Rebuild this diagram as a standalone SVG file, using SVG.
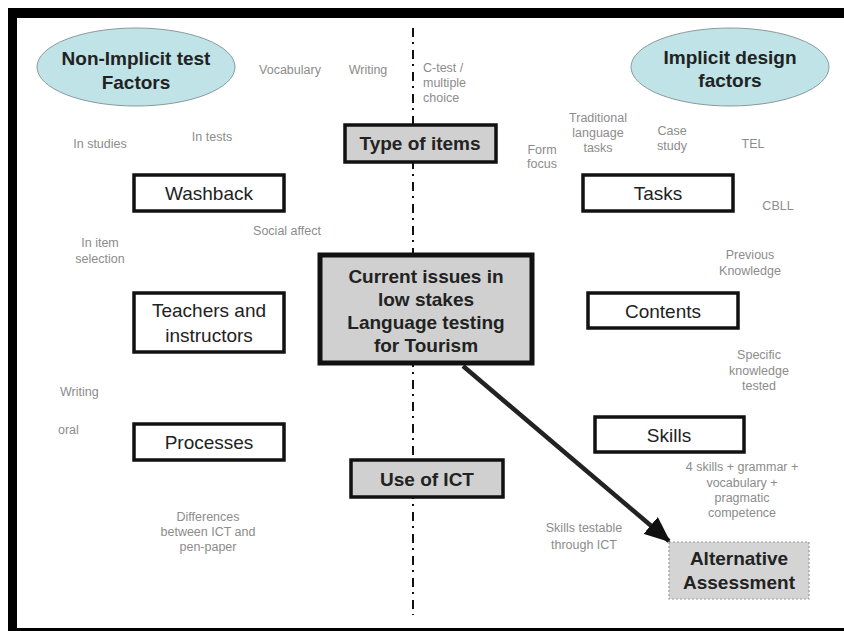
<svg xmlns="http://www.w3.org/2000/svg" width="844" height="631" viewBox="0 0 844 631">
<defs>
<style>
.lbl{font-family:"Liberation Sans",Arial,sans-serif;font-size:12.5px;fill:#8c8c8c;text-anchor:middle}
.lbll{font-family:"Liberation Sans",Arial,sans-serif;font-size:12.5px;fill:#8c8c8c;text-anchor:start}
.box{fill:#fff;stroke:#111;stroke-width:3.5}
.gbox{fill:#d0d0d0;stroke:#111;stroke-width:3.5}
.bt{font-family:"Liberation Sans",Arial,sans-serif;font-size:19px;fill:#222;text-anchor:middle}
.bb{font-family:"Liberation Sans",Arial,sans-serif;font-size:19px;font-weight:bold;fill:#222;text-anchor:middle}
.ell{fill:#bfe3e6;stroke:#8a9a9c;stroke-width:1}
</style>
<marker id="ah" markerUnits="userSpaceOnUse" markerWidth="26" markerHeight="22" refX="24" refY="11" orient="auto">
<path d="M0,0 L26,11 L0,22 Z" fill="#111"/>
</marker>
</defs>
<rect x="0" y="0" width="844" height="631" fill="#fff"/>
<!-- frame -->
<rect x="8" y="8" width="836" height="10" fill="#000"/>
<rect x="8" y="8" width="9" height="623" fill="#000"/>
<rect x="8" y="628" width="836" height="3" fill="#000"/>

<g id="connectors">
<line x1="413" y1="28" x2="413" y2="615" stroke="#111" stroke-width="2" stroke-dasharray="9 5 2 6"/>
<line x1="463" y1="366" x2="669" y2="541" stroke="#222" stroke-width="4.5" marker-end="url(#ah)"/>
</g>

<g id="non-implicit">
<ellipse class="ell" cx="136" cy="67" rx="99" ry="39"/>
<text class="bb" x="136" y="65">Non-Implicit test</text>
<text class="bb" x="136" y="89">Factors</text>
</g>
<g id="implicit">
<ellipse class="ell" cx="730" cy="67" rx="99" ry="39"/>
<text class="bb" x="730" y="64">Implicit design</text>
<text class="bb" x="730" y="87">factors</text>
</g>

<g id="type-of-items">
<rect class="gbox" x="345" y="125" width="151" height="37"/>
<text class="bb" x="420" y="150">Type of items</text>
</g>
<g id="washback">
<rect class="box" x="134" y="175" width="150" height="36"/>
<text class="bt" x="209" y="200">Washback</text>
</g>
<g id="tasks">
<rect class="box" x="583" y="175" width="150" height="36"/>
<text class="bt" x="658" y="200">Tasks</text>
</g>
<g id="teachers">
<rect class="box" x="134" y="293" width="150" height="59"/>
<text class="bt" x="209" y="317">Teachers and</text>
<text class="bt" x="209" y="342">instructors</text>
</g>
<g id="center">
<rect x="320" y="255" width="212" height="108" fill="#d0d0d0" stroke="#111" stroke-width="5"/>
<text class="bb" x="426" y="283">Current issues in</text>
<text class="bb" x="426" y="306">low stakes</text>
<text class="bb" x="426" y="329">Language testing</text>
<text class="bb" x="426" y="352">for Tourism</text>
</g>
<g id="contents">
<rect class="box" x="588" y="293" width="150" height="35"/>
<text class="bt" x="663" y="318">Contents</text>
</g>
<g id="processes">
<rect class="box" x="134" y="424" width="150" height="36"/>
<text class="bt" x="209" y="449">Processes</text>
</g>
<g id="use-of-ict">
<rect class="gbox" x="351" y="460" width="152" height="37"/>
<text class="bb" x="427" y="486">Use of ICT</text>
</g>
<g id="skills">
<rect class="box" x="595" y="417" width="149" height="35"/>
<text class="bt" x="669" y="442">Skills</text>
</g>
<g id="alternative">
<rect x="669" y="542" width="140" height="57" fill="#d4d4d4" stroke="#999" stroke-width="1.2" stroke-dasharray="2 2"/>
<text class="bb" x="739" y="565">Alternative</text>
<text class="bb" x="739" y="589">Assessment</text>
</g>

<g id="labels">
<text class="lbl" x="290" y="74">Vocabulary</text>
<text class="lbl" x="368" y="74">Writing</text>
<text class="lbll" x="423" y="72">C-test /</text>
<text class="lbll" x="423" y="87">multiple</text>
<text class="lbll" x="423" y="102">choice</text>
<text class="lbl" x="100" y="148">In studies</text>
<text class="lbl" x="212" y="141">In tests</text>
<text class="lbl" x="542" y="154">Form</text>
<text class="lbl" x="542" y="168">focus</text>
<text class="lbl" x="598" y="122">Traditional</text>
<text class="lbl" x="598" y="137">language</text>
<text class="lbl" x="598" y="152">tasks</text>
<text class="lbl" x="672" y="135">Case</text>
<text class="lbl" x="672" y="150">study</text>
<text class="lbl" x="753" y="148">TEL</text>
<text class="lbl" x="778" y="210">CBLL</text>
<text class="lbl" x="287" y="235">Social affect</text>
<text class="lbl" x="100" y="247">In item</text>
<text class="lbl" x="100" y="263">selection</text>
<text class="lbl" x="750" y="259">Previous</text>
<text class="lbl" x="750" y="275">Knowledge</text>
<text class="lbl" x="759" y="359">Specific</text>
<text class="lbl" x="759" y="375">knowledge</text>
<text class="lbl" x="759" y="390">tested</text>
<text class="lbll" x="60" y="396">Writing</text>
<text class="lbll" x="58" y="434">oral</text>
<text class="lbl" x="208" y="521">Differences</text>
<text class="lbl" x="208" y="536">between ICT and</text>
<text class="lbl" x="208" y="551">pen-paper</text>
<text class="lbl" x="742" y="471">4 skills + grammar +</text>
<text class="lbl" x="742" y="487">vocabulary +</text>
<text class="lbl" x="742" y="502">pragmatic</text>
<text class="lbl" x="742" y="517">competence</text>
<text class="lbl" x="584" y="532">Skills testable</text>
<text class="lbl" x="584" y="549">through ICT</text>
</g>
</svg>
